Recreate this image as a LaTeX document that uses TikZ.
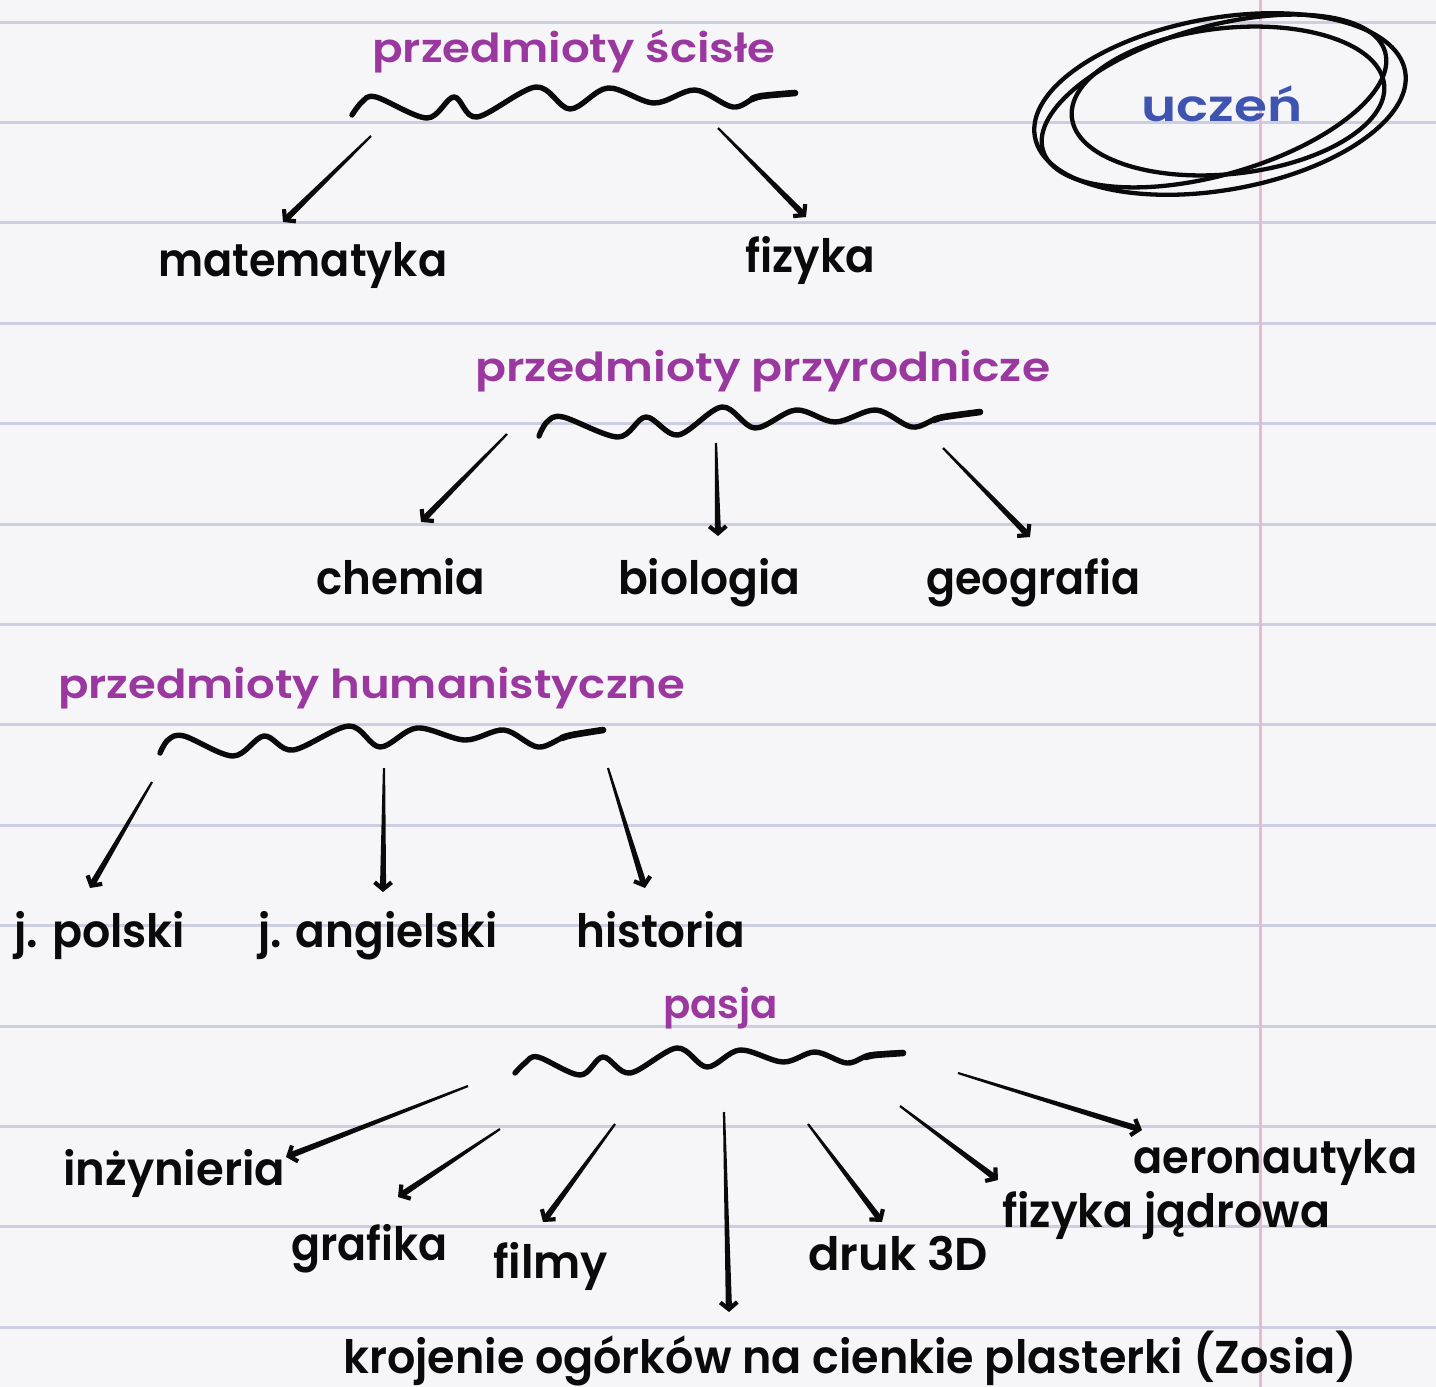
\documentclass[tikz,border=0pt]{standalone}
\usepackage{fontspec}
\setmainfont{Poppins}[UprightFont=* SemiBold]
\usepackage{graphicx}
\usetikzlibrary{calc,arrows.meta}
\definecolor{paper}{RGB}{246,246,249}
\definecolor{rulecol}{RGB}{204,207,226}
\definecolor{margincol}{RGB}{234,184,208}
\definecolor{head}{RGB}{154,56,160}
\definecolor{ublue}{RGB}{62,84,176}
\definecolor{ink}{RGB}{10,10,10}
\newcommand\tw[2]{\resizebox{#1pt}{\height}{#2}}
\newcommand\harrow[2]{%
  \fill[ink] ($(#1)!1.1pt!90:(#2)$) -- ($($(#2)!3pt!(#1)$)!3.1pt!-90:(#1)$) -- ($($(#2)!3pt!(#1)$)!3.1pt!90:(#1)$) -- ($(#1)!1.1pt!-90:(#2)$) -- cycle;
  \draw[ink, line width=4.2pt, line cap=round, -{Straight Barb[length=7pt,width=17pt]}] ($(#2)!10pt!(#1)$) -- (#2);}
\tikzset{
  blk/.style={anchor=base west, inner sep=0pt, text=ink, font=\fontsize{46}{50}\selectfont},
  hd/.style={anchor=base west, inner sep=0pt, text=head, font=\fontsize{40}{44}\selectfont},
  wave/.style={draw=ink, line width=5.4pt, line cap=round, line join=round},
  waveend/.style={draw=ink, line width=6.6pt, line cap=round, line join=round},
  loopline/.style={draw=ink, line width=4.3pt},
}
\begin{document}
\begin{tikzpicture}[x=1pt,y=-1pt]
\useasboundingbox (0,0) rectangle (1436,1387);
\fill[paper] (0,0) rectangle (1436,1387);
\foreach \k in {0,...,13} {
  \draw[rulecol, line width=3pt] (0,{22+100.4*\k}) -- (1436,{22+100.4*\k});
}
\draw[margincol, line width=3pt] (1260,0) -- (1260,1387);

% --- ucze\'n
\node[anchor=base west, inner sep=0pt, text=ublue, font=\fontsize{44}{48}\selectfont] (uczen) at (1141,121) {\tw{161}{uczeń}};
\draw[loopline, rotate around={10:(1220,104)}] (1220,104) ellipse [x radius=188, y radius=86];
\draw[loopline, rotate around={16:(1214,101)}] (1214,101) ellipse [x radius=178, y radius=74];
\draw[loopline, rotate around={6:(1228,101)}] (1228,101) ellipse [x radius=157, y radius=73];

% --- przedmioty scisle
\node[hd] (scisle) at (372,62) {\tw{403}{przedmioty ścisłe}};
\draw[wave] plot[smooth, tension=0.55] coordinates {(352,115) (362,102) (376,97) (427,118) (454,97) (477,117) (536,87) (570,109) (608,88) (654,103) (695,90) (733,107) (758,97) (795,93)};
\draw[waveend] plot[smooth, tension=0.55] coordinates {(752,99) (762,96) (795,93)};
\node[blk] (mat) at (158,276) {\tw{289}{matematyka}};
\node[blk] (fiz) at (745,272) {\tw{130}{fizyka}};
\coordinate (a1s) at (371,136); \coordinate (a1e) at (283,222);
\coordinate (a2s) at (718,128); \coordinate (a2e) at (806,217);
\harrow{a1s}{a1e}
\harrow{a2s}{a2e}

% --- przedmioty przyrodnicze
\node[hd] (przyr) at (475,381) {\tw{575}{przedmioty przyrodnicze}};
\draw[wave] plot[smooth, tension=0.55] coordinates {(539,436) (547,422) (563,417) (618,437) (646,417) (678,435) (722,407) (755,428) (796,410) (835,422) (876,410) (912,427) (939,418) (980,412)};
\draw[waveend] plot[smooth, tension=0.55] coordinates {(934,420) (944,417) (980,412)};
\node[blk] (chem) at (316,594) {\tw{169}{chemia}};
\node[blk] (bio) at (618,594) {\tw{182}{biologia}};
\node[blk] (geo) at (926,594) {\tw{214}{geografia}};
\coordinate (b1s) at (507,434); \coordinate (b1e) at (421,522);
\coordinate (b2s) at (716,443); \coordinate (b2e) at (718,536);
\coordinate (b3s) at (943,448); \coordinate (b3e) at (1030,537);
\harrow{b1s}{b1e}
\harrow{b2s}{b2e}
\harrow{b3s}{b3e}

% --- przedmioty humanistyczne
\node[hd] (hum) at (58,698) {\tw{627}{przedmioty humanistyczne}};
\draw[wave] plot[smooth, tension=0.55] coordinates {(160,753) (168,740) (184,736) (233,756) (264,736) (293,750) (349,726) (380,747) (417,728) (465,740) (504,730) (538,747) (567,736) (603,730)};
\draw[waveend] plot[smooth, tension=0.55] coordinates {(562,738) (572,735) (603,730)};
\node[blk] (pol) at (14,947) {\tw{171}{j. polski}};
\node[blk] (ang) at (258,947) {\tw{239}{j. angielski}};
\node[blk] (his) at (576,947) {\tw{169}{historia}};
\coordinate (c1s) at (152,782); \coordinate (c1e) at (90,888);
\coordinate (c2s) at (384,768); \coordinate (c2e) at (383,892);
\coordinate (c3s) at (608,768); \coordinate (c3e) at (645,888);
\harrow{c1s}{c1e}
\harrow{c2s}{c2e}
\harrow{c3s}{c3e}

% --- pasja
\node[hd] (pasja) at (663,1018) {\tw{115}{pasja}};
\draw[wave] plot[smooth, tension=0.55] coordinates {(515,1073) (525,1063) (538,1057) (580,1075) (603,1057) (630,1073) (677,1048) (707,1067) (740,1050) (783,1062) (815,1052) (847,1063) (870,1055) (903,1053)};
\draw[waveend] plot[smooth, tension=0.55] coordinates {(866,1057) (875,1055) (903,1053)};
\node[blk] (inz) at (63,1185) {\tw{222}{inżynieria}};
\node[blk] (graf) at (291,1260) {\tw{156}{grafika}};
\node[blk] (film) at (493,1278) {\tw{115}{filmy}};
\node[blk] (druk) at (808,1270) {\tw{180}{druk 3D}};
\node[blk] (fj) at (1002,1227) {\tw{328}{fizyka jądrowa}};
\node[blk] (aero) at (1133,1173) {\tw{284}{aeronautyka}};
\node[blk] (kroj) at (343,1373) {\tw{1014}{krojenie ogórków na cienkie plasterki (Zosia)}};
\coordinate (d1s) at (468,1086); \coordinate (d1e) at (286,1157);
\coordinate (d2s) at (500,1129); \coordinate (d2e) at (398,1197);
\coordinate (d3s) at (615,1124); \coordinate (d3e) at (543,1222);
\coordinate (d4s) at (724,1112); \coordinate (d4e) at (729,1312);
\coordinate (d5s) at (808,1124); \coordinate (d5e) at (882,1222);
\coordinate (d6s) at (900,1106); \coordinate (d6e) at (998,1180);
\coordinate (d7s) at (958,1073); \coordinate (d7e) at (1142,1130);
\harrow{d1s}{d1e}
\harrow{d2s}{d2e}
\harrow{d3s}{d3e}
\harrow{d4s}{d4e}
\harrow{d5s}{d5e}
\harrow{d6s}{d6e}
\harrow{d7s}{d7e}
\end{tikzpicture}
\end{document}
